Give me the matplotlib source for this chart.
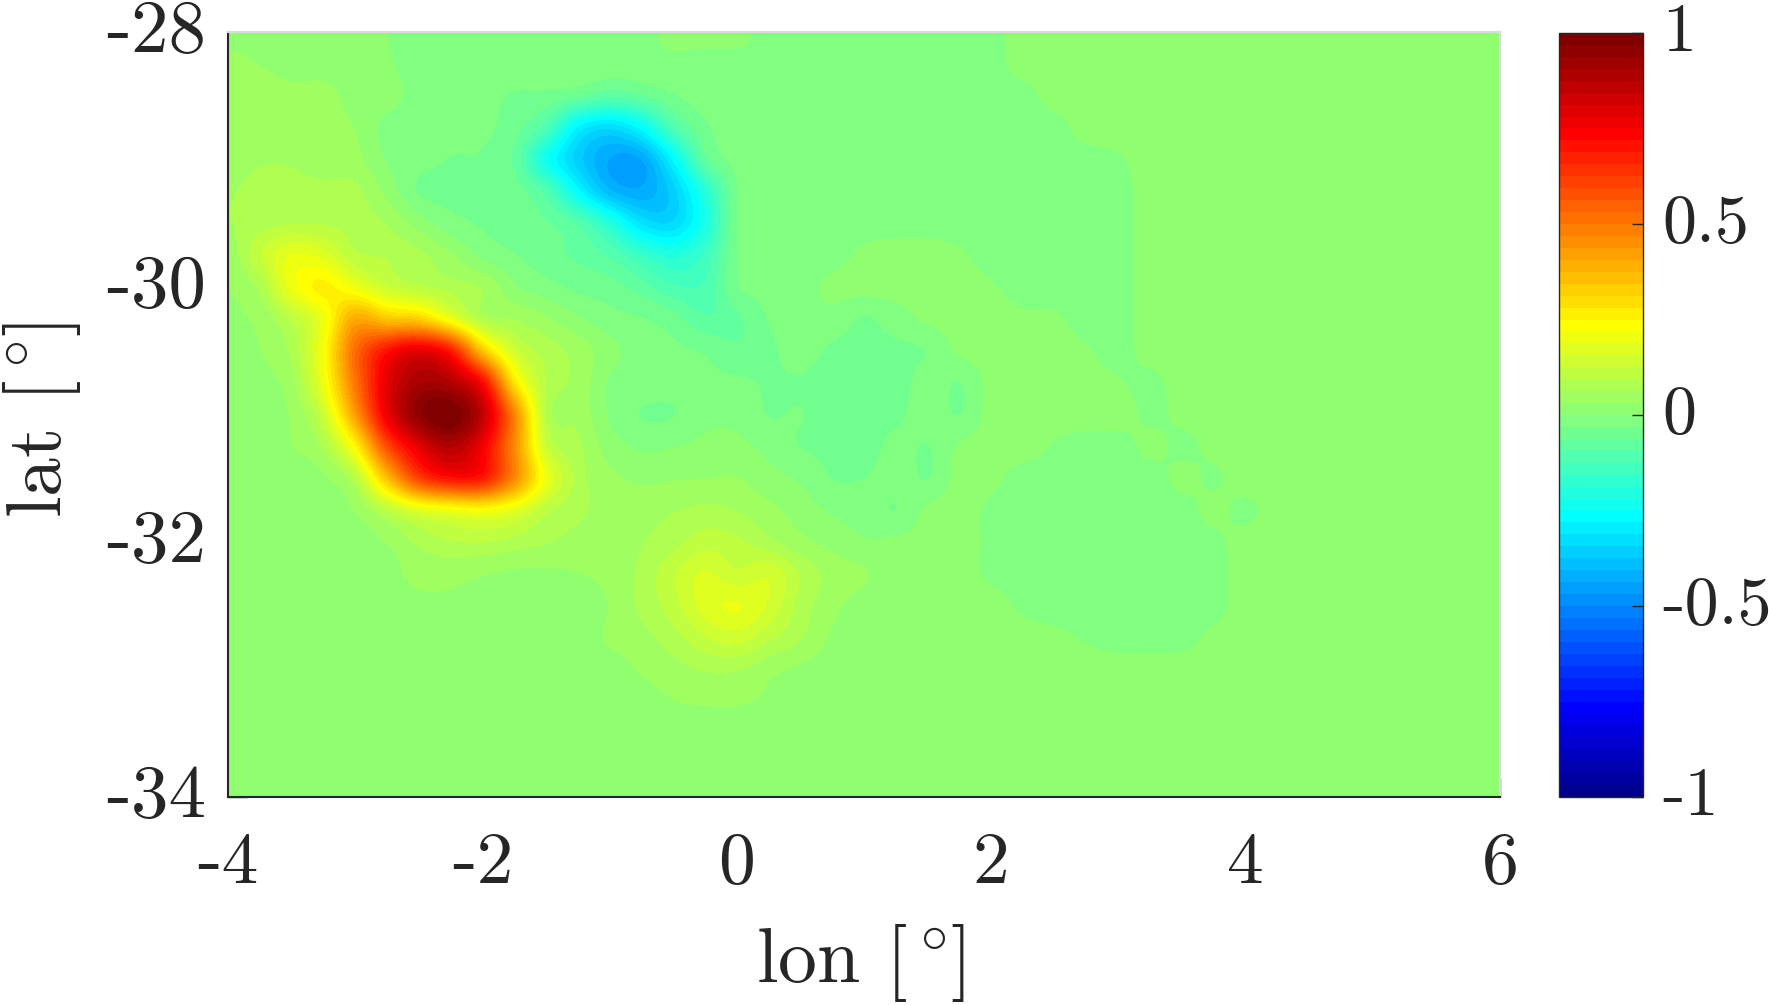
import numpy as np
import matplotlib
matplotlib.use('Agg')
import matplotlib.pyplot as plt
from matplotlib.colors import ListedColormap, BoundaryNorm
from matplotlib.transforms import ScaledTranslation

lon = [-4,-3.75,-3.5,-3.25,-3,-2.75,-2.5,-2.25,-2,-1.75,-1.5,-1.25,-1,-.75,-.5,-.25,0,.25,.5,.75,1,1.25,1.5,1.75,2,2.25,2.5,2.75,3,3.25,3.5,3.75,4,4.25,4.5,6]
lat = [-28-0.25*i for i in range(25)]
# field values, in hundredths, one row per latitude
field = [
[2,2,2,2,2,0,-1,-1,-1,-1,-1,-1,-1,-1,1,1,1,-1,-1,-1,-1,-1,-1,-1,-1,1,1,1,1,1,1,1,1,1,1,1],
[4,3,2,2,2,.3,-1,-1,-1,-1,-1,-1,-1,-1,-1,-1,-1,-1,-1,-1,-1,-1,-1,-1,-1,1,1,1,1,1,1,1,1,1,1,1],
[5,5,4,4,2,1,-1,-1.5,-2,-3.5,-4,-6,-9,-7,-3.5,-1.5,-1,-1,-1,-1,-1,-1,-1,-1,-1,-1,1,1,1,1,1,1,1,1,1,1],
[5,5,5,4,3,-1,-1,-2,-2.5,-5,-12,-29,-34,-27,-12,-4,-1,-1,-1,-1,-1,-1,-1,-1,-1,-1,-1,1,1,1,1,1,1,1,1,1],
[5,6,6,5,4,-.3,-2,-3.3,-3.5,-7,-24,-36,-44,-44,-28,-8,-2,-1,-1,-1,-1,-1,-1,-1,-1,-1,-1,-1,-.3,1,1,1,1,1,1,1],
[6,7,7,7,7,2,-3.5,-4,-4,-5,-11,-27,-40,-43,-36,-20,-3.5,-1,-1,-1,-1,-1,-1,-1,-1,-1,-1,-1,-1,1,1,1,1,1,1,1],
[6,8,9,9,8,6,1.5,-2,-3.5,-4.5,-6,-10,-20,-32,-34,-22,-3.5,-1,-1,-1,-1,-1,-1,-1,-1,-1,-1,-1,-1,1,1,1,1,1,1,1],
[4,12,19,17,10,9,7,3.5,-1,-3,-5,-7,-10,-16,-20,-15,-3.5,-1,-1,-1,.5,1,1,.3,-1,-1,-1,-1,-1,1,1,1,1,1,1,1],
[3,7,20,26,20,13,10,8,6,.5,-2,-4,-5,-8,-12,-12,-3.5,-2,-1,.5,1,1,1,1,.2,-1,-1,-1,-1,1,1,1,1,1,1,1],
[2.5,4,10,20,40,34,32,20,8,6,3.5,.5,-2,-3,-5,-9,-7,-3,-1,-1,-3.5,-1.5,.5,1,1,.5,.3,-1,-1,1,1,1,1,1,1,1],
[2,3,7,22,52,70,78,68,34,14,8,5,1,-1.5,-2.5,-3.5,-5.5,-4,-1.5,-4,-4,-4,-3,.5,1,1,1,.2,-1,1,1,1,1,1,1,1],
[1.5,2.5,5,20,50,78,90,88,72,28,9,5.5,-.5,-1.5,-2,-2.5,-2.5,-3.5,-3.5,-5,-5,-5,-1.5,-3.2,1,1,1,1,.2,-.7,1,1,1,1,1,1],
[1,1.5,3.5,13,42,76,95,100,85,47,9,5.5,-.5,-3.3,-3.3,-1,-.8,-3.3,-3,-5,-5,-4,-1.5,-3.2,1,1,1,1,1,-.5,.5,1,1,1,1,1],
[1,1,3,7,24,58,78,88,75,46,13,7,1.5,-.5,-.2,.7,.7,-1,-3.2,-4,-5,-2,-3.3,.3,1,1,-.3,-1,-1,.5,-.5,.5,1,1,1,1],
[1,1,1,2.5,9,35,60,70,68,46,20,8,4,2.5,2.8,3,3.2,1,-.5,-3.2,-3.2,-1.5,-3.3,1,.5,-1,-1,-1,-1,-1,.5,-.3,1,1,1,1],
[1,1,1,1.5,3.3,10,17,20,22,18,10,7,5,5,6,7,6,4,1.5,-.5,-1.5,-3.2,.5,1,-.5,-1,-1,-1,-1,-1,-.8,.5,-.5,1,1,1],
[1,1,1,1,1.2,3.3,7,9,9.5,8,6.5,5,3.5,6,8,11,10,7,4,2,.3,.5,1,1,-.5,-1,-1,-1,-1,-1,-1,-.5,.8,1,1,1],
[1,1,1,1,1,1.5,4.5,4.5,3.3,2.5,2.5,3,4,7,12,16,13,15,9,5,3.5,1,1,1,-.5,-1,-1,-1,-1,-1,-1,-.8,1,1,1,1],
[1,1,1,1,1,1,2,2,1,1,1,1.5,3.2,7,11,17,19,15,8,4,1.5,1,1,1,1,-.5,-1,-1,-1,-1,-1,-.8,1,1,1,1],
[1,1,1,1,1,1,1,1,1,1,1,1,3.6,5,8,12,14,10,6.5,2.5,1,1,1,1,1,1,.5,-.3,-1,-1,-.8,.5,1,1,1,1],
[1,1,1,1,1,1,1,1,1,1,1,1,1.5,3.5,5,6.5,6.5,4,2.5,1.5,1,1,1,1,1,1,1,1,1,1,1,1,1,1,1,1],
[1,1,1,1,1,1,1,1,1,1,1,1,1,1.5,3,3.5,3.5,2.5,1.5,1,1,1,1,1,1,1,1,1,1,1,1,1,1,1,1,1],
[1]*36,
[1]*36,
[1]*36,
]
x_ticks = [-4,-2,0,2,4,6]
y_ticks = [-34,-32,-30,-28]
cbar_ticks = [-1,-0.5,0,0.5,1]
cbar_labels = ['-1','-0.5','0','0.5','1']

TXT = '#262626'
plt.rcParams['font.family'] = 'cmr10'
plt.rcParams['mathtext.fontset'] = 'cm'
plt.rcParams['axes.unicode_minus'] = False
plt.rcParams['axes.formatter.use_mathtext'] = True

# MATLAB jet(64)
idx = np.arange(1, 65)
r = np.interp(idx, [24, 40, 56, 64], [0, 1, 1, .5])
g = np.interp(idx, [8, 24, 40, 56], [0, 1, 1, 0])
b = np.interp(idx, [1, 8, 24, 40], [.5625, 1, 1, 0])
cmap = ListedColormap(np.c_[r, g, b])
levels = np.linspace(-1, 1, 65)
norm = BoundaryNorm(levels, 64)

def smooth(a, n=5):
    # Catmull-Rom resampling along axis 0: only smooths the drawing of the read grid
    m = a.shape[0]
    t = np.linspace(0, m-1, (m-1)*n+1)
    i = np.minimum(t.astype(int), m-2)
    u = (t-i)[:, None]
    p0, p1, p2, p3 = a[np.maximum(i-1, 0)], a[i], a[i+1], a[np.minimum(i+2, m-1)]
    return 0.5*(2*p1+(p2-p0)*u+(2*p0-5*p1+4*p2-p3)*u**2+(3*p1-p0-3*p2+p3)*u**3)

Z = np.array(field, float)/100
Zs = np.clip(smooth(smooth(Z).T).T, -0.999, 0.999)
n = 5
xs = np.interp(np.linspace(0, len(lon)-1, (len(lon)-1)*n+1), np.arange(len(lon)), lon)
ys = np.interp(np.linspace(0, len(lat)-1, (len(lat)-1)*n+1), np.arange(len(lat)), lat)

W, H = 1769, 1005
fig = plt.figure(figsize=(W/100, H/100), dpi=100)
up = ScaledTranslation(0, 6/100, fig.dpi_scale_trans)
ax = fig.add_axes([228/W, 1-797/H, (1500-228)/W, (797-32)/H])
cs = ax.contourf(xs, ys, Zs, levels=levels, cmap=cmap, norm=norm)
ax.set_xlim(-4, 6); ax.set_ylim(-34, -28)
ax.set_axisbelow(True)
ax.set_xticks(x_ticks); ax.set_yticks(y_ticks)
ax.set_xticklabels([str(v) for v in x_ticks])
ax.set_yticklabels([str(v) for v in y_ticks])
ax.tick_params(direction='in', length=14, width=1, color=TXT, labelcolor=TXT)
ax.tick_params(axis='x', pad=25, labelsize=53)
ax.tick_params(axis='y', pad=16, labelsize=54)
for t in ax.get_yticklabels():
    t.set_transform(t.get_transform() + up)
for s in ['left', 'bottom']:
    ax.spines[s].set_color(TXT); ax.spines[s].set_linewidth(1.5)
for s in ['top', 'right']:
    ax.spines[s].set_color('#d9d9d9'); ax.spines[s].set_linewidth(1.5)
fig.text(860/W, 1-963/H, r'lon $[^\circ\!]$', fontsize=56, color=TXT, ha='center', va='center')
fig.text(42/W, 1-420/H, r'lat $[^\circ\!]$', fontsize=56, color=TXT, ha='center', va='center', rotation=90)

cax = fig.add_axes([1559/W, 1-797/H, (1643-1559)/W, (797-33)/H])
cb = fig.colorbar(cs, cax=cax, drawedges=False)
cb.set_ticks(cbar_ticks)
cb.set_ticklabels(cbar_labels)
cb.ax.tick_params(direction='in', length=8, width=1, color=TXT, labelsize=49, labelcolor=TXT, pad=14, right=True, left=False)
cb.ax.minorticks_off()
for t in cb.ax.get_yticklabels():
    t.set_transform(t.get_transform() + up)
cb.outline.set_edgecolor(TXT); cb.outline.set_linewidth(1)

fig.savefig('out.png', dpi=100)
